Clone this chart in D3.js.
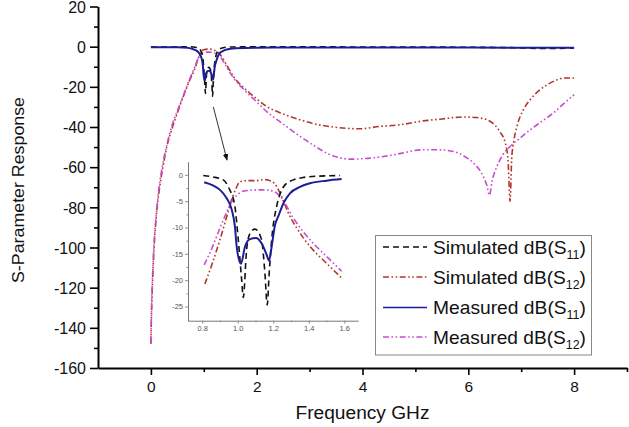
<!DOCTYPE html>
<html>
<head>
<meta charset="utf-8">
<script src="https://cdn.jsdelivr.net/npm/d3@7/dist/d3.min.js"></script>
<style>
  html, body { margin: 0; padding: 0; background: #fff; }
  svg { display: block; font-family: "Liberation Sans", Arial, sans-serif; }
</style>
</head>
<body>
<svg id="chart" width="629" height="427"></svg>
<script>
// ---- Wideband response, 0–8 GHz: [frequency GHz, dB] ----
const simS11 = [[0,-0.15],[0.4,-0.15],[0.7,-0.1],[0.806,-0.13],[0.86,-0.4],[0.918,-0.95],[0.95,-2.5],[0.984,-6],[1.003,-12.3],[1.022,-19.9],[1.031,-23.3],[1.05,-14.2],[1.069,-11.1],[1.097,-10.3],[1.134,-12.3],[1.153,-18.7],[1.166,-24.7],[1.177,-18.7],[1.191,-12.3],[1.219,-6],[1.24,-3.5],[1.266,-1.9],[1.31,-1.0],[1.367,-0.5],[1.45,-0.25],[1.6,-0.13],[2,-0.1],[3,-0.1],[4,-0.15],[5,-0.2],[6,-0.3],[6.8,-0.5],[7.4,-0.9],[8,-0.7]];
const simS12 = [[0,-148],[0.01,-135],[0.03,-118],[0.06,-100],[0.1,-85],[0.15,-73],[0.22,-61],[0.3,-50],[0.39,-41.5],[0.5,-33],[0.61,-25],[0.72,-17.5],[0.83,-11],[0.9,-5.5],[0.95,-2.5],[1.0,-1.5],[1.1,-1.2],[1.2,-1.8],[1.31,-4],[1.45,-10],[1.56,-14.8],[1.8,-21.5],[2.0,-26],[2.19,-29.8],[2.5,-33.5],[2.82,-36.4],[3.1,-38.5],[3.45,-40],[3.95,-40.9],[4.33,-39.7],[4.71,-38.9],[5.09,-37.2],[5.5,-36],[5.91,-35],[6.15,-35.3],[6.35,-36.4],[6.5,-39],[6.6,-42.5],[6.7,-48],[6.75,-56],[6.79,-77],[6.82,-56],[6.86,-47],[6.92,-39.7],[7.05,-31],[7.17,-26.4],[7.33,-22],[7.49,-19],[7.65,-16.8],[7.8,-15.6],[8.0,-15.6]];
const measS11 = [[0,-0.3],[0.5,-0.3],[0.7,-0.6],[0.811,-1.4],[0.86,-2.0],[0.9,-2.85],[0.935,-4.3],[0.966,-6.6],[0.984,-9.8],[0.994,-13.6],[1.018,-16.9],[1.041,-13.6],[1.069,-12.2],[1.103,-12.0],[1.134,-13],[1.163,-15.2],[1.176,-16.3],[1.191,-13.6],[1.21,-9.5],[1.228,-7.9],[1.26,-5.2],[1.294,-3.5],[1.35,-2.3],[1.407,-1.6],[1.5,-1.1],[1.6,-0.8],[2,-0.5],[3,-0.4],[5,-0.4],[7,-0.5],[8,-0.5]];
const measS12 = [[0,-147],[0.01,-132],[0.03,-115],[0.06,-98],[0.1,-84],[0.15,-71],[0.22,-59],[0.3,-49],[0.39,-40],[0.5,-32],[0.61,-24.5],[0.72,-17],[0.83,-10],[0.9,-5.5],[0.95,-3.5],[1.0,-2.8],[1.1,-2.7],[1.2,-3.2],[1.31,-5],[1.45,-11],[1.56,-15.5],[1.8,-22.5],[2.0,-27.5],[2.19,-32.3],[2.5,-38.5],[2.82,-44.7],[3.1,-49.5],[3.32,-53],[3.55,-55.2],[3.77,-56],[4.1,-55.6],[4.4,-54.7],[4.75,-53],[5.09,-51.4],[5.4,-51.3],[5.72,-52.2],[5.95,-55],[6.1,-58],[6.25,-63],[6.35,-69],[6.4,-74],[6.45,-67],[6.54,-59.7],[6.65,-54],[6.79,-49.7],[6.98,-45.5],[7.17,-41.4],[7.4,-37],[7.61,-33],[7.8,-28.5],[8.0,-23.9]];

// ---- Passband detail, 0.8–1.6 GHz ----
const zoomSimS11 = [[0.806,-0.13],[0.86,-0.4],[0.918,-0.95],[0.95,-2.5],[0.984,-6],[1.003,-12.3],[1.022,-19.9],[1.031,-23.3],[1.05,-14.2],[1.069,-11.1],[1.097,-10.3],[1.134,-12.3],[1.153,-18.7],[1.166,-24.7],[1.177,-18.7],[1.191,-12.3],[1.219,-6],[1.24,-3.5],[1.266,-1.9],[1.31,-1.0],[1.367,-0.5],[1.45,-0.25],[1.576,-0.13]];
const zoomSimS12 = [[0.815,-20.7],[0.86,-16.5],[0.9,-12.3],[0.935,-8.3],[0.966,-4.7],[0.99,-2.6],[1.012,-1.3],[1.05,-1.1],[1.1,-1.1],[1.15,-0.9],[1.19,-1.2],[1.219,-2.2],[1.238,-3.5],[1.294,-7.9],[1.332,-10.1],[1.407,-13.6],[1.5,-16.8],[1.585,-19.6]];
const zoomMeasS11 = [[0.811,-1.4],[0.86,-2.0],[0.9,-2.85],[0.935,-4.3],[0.966,-6.6],[0.984,-9.8],[0.994,-13.6],[1.018,-16.9],[1.041,-13.6],[1.069,-12.2],[1.103,-12.0],[1.134,-13],[1.163,-15.2],[1.176,-16.3],[1.191,-13.6],[1.21,-9.5],[1.228,-7.9],[1.26,-5.2],[1.294,-3.5],[1.35,-2.3],[1.407,-1.6],[1.5,-1.1],[1.585,-0.8]];
const zoomMeasS12 = [[0.811,-17.1],[0.86,-13.5],[0.9,-10.1],[0.935,-7.3],[0.966,-5.1],[0.995,-3.9],[1.022,-3.2],[1.06,-2.95],[1.1,-2.85],[1.15,-2.85],[1.2,-3.1],[1.247,-4.4],[1.313,-8.2],[1.369,-10.8],[1.425,-13],[1.482,-14.9],[1.585,-18.3]];

// ---- Ticks and labels ----
const yMajor = [-160,-140,-120,-100,-80,-60,-40,-20,0,20];
const yMinor = [-150,-130,-110,-90,-70,-50,-30,-10,10];
const xMajor = [0,2,4,6,8];
const xMinor = [1,3,5,7,9];
const zoomYMajor = [0,-5,-10,-15,-20,-25];
const zoomYMinor = [-2.5,-7.5,-12.5,-17.5,-22.5];
const zoomXMajor = [0.8,1.0,1.2,1.4,1.6];
const zoomXMinor = [0.9,1.1,1.3,1.5];

const seriesNames = ["Simulated dB(S", "Simulated dB(S", "Measured dB(S", "Measured dB(S"];
const seriesSubs = ["11", "12", "11", "12"];

// series styling
const styles = [
  { color: "#111111", width: 1.6, dash: "6,4" },
  { color: "#b3362c", width: 1.6, dash: "6,2.5,1.6,2.5,1.6,2.5" },
  { color: "#1d1d98", width: 2.0, dash: null },
  { color: "#c64fcf", width: 1.6, dash: "6,2.5,1.6,2.5,1.6,2.5" }
];

const svg = d3.select("#chart");

// ---- Main axes ----
const x = d3.scaleLinear().domain([-1, 9]).range([98, 627]);
const y = d3.scaleLinear().domain([-160, 20]).range([368, 6.5]);

svg.append("g").attr("class", "main-axis").attr("transform", `translate(${x(-1)},0)`)
  .call(d3.axisLeft(y).tickValues(yMajor).tickSize(8).tickSizeOuter(0).tickPadding(4).tickFormat(d => String(d)))
  .call(g => g.selectAll(".tick text").attr("font-size", 16).attr("dy", "0.36em"));
svg.append("g").attr("class", "main-axis").attr("transform", `translate(${x(-1)},0)`)
  .call(d3.axisLeft(y).tickValues(yMinor).tickSize(4).tickFormat(""))
  .call(g => g.select(".domain").remove());

svg.append("g").attr("class", "main-axis").attr("transform", `translate(0,${y(-160)})`)
  .call(d3.axisBottom(x).tickValues(xMajor).tickSize(7).tickSizeOuter(0).tickPadding(6).tickFormat(d => String(d)))
  .call(g => g.selectAll(".tick text").attr("font-size", 15.5));
svg.append("g").attr("class", "main-axis").attr("transform", `translate(0,${y(-160)})`)
  .call(d3.axisBottom(x).tickValues(xMinor).tickSize(4).tickFormat(""))
  .call(g => g.select(".domain").remove());

svg.selectAll(".main-axis .domain").attr("stroke", "#000").attr("stroke-width", 2);
svg.selectAll(".main-axis .tick line").attr("stroke", "#000").attr("stroke-width", 1.6);
svg.selectAll(".main-axis .tick text").attr("fill", "#111")
  .attr("font-family", "Liberation Sans, Arial, sans-serif");

svg.append("text").attr("x", x(4)).attr("y", 419).attr("text-anchor", "middle")
  .attr("font-size", 18).attr("textLength", 134).attr("lengthAdjust", "spacingAndGlyphs")
  .attr("fill", "#111").text("Frequency GHz");
svg.append("text").attr("transform", `translate(24,${(97 + 283) / 2}) rotate(-90)`)
  .attr("text-anchor", "middle").attr("font-size", 17).attr("textLength", 186).attr("lengthAdjust", "spacingAndGlyphs")
  .attr("fill", "#111").text("S-Parameter Response");

// ---- Main curves ----
const line = d3.line().x(d => x(d[0])).y(d => y(d[1])).curve(d3.curveMonotoneX);
const mainSeries = [simS11, simS12, measS11, measS12];
// draw S12 first so the S11 traces sit on top
[1, 3, 0, 2].forEach(i => {
  const s = styles[i];
  svg.append("path").datum(mainSeries[i]).attr("d", line)
    .attr("fill", "none").attr("stroke", s.color).attr("stroke-width", s.width)
    .attr("stroke-dasharray", s.dash).attr("stroke-linejoin", "round");
});

// ---- Pointer from the passband to the inset ----
svg.append("defs").append("marker").attr("id", "head")
  .attr("viewBox", "0 0 10 10").attr("refX", 9).attr("refY", 5)
  .attr("markerWidth", 7).attr("markerHeight", 7).attr("orient", "auto")
  .append("path").attr("d", "M0,1 L10,5 L0,9 Z").attr("fill", "#111");
svg.append("line").attr("x1", x(1.18)).attr("y1", y(-30)).attr("x2", x(1.44)).attr("y2", y(-56.5))
  .attr("stroke", "#333").attr("stroke-width", 1).attr("marker-end", "url(#head)");

// ---- Inset: passband detail ----
const ix = d3.scaleLinear().domain([0.72, 1.677]).range([188, 358]);
const iy = d3.scaleLinear().domain([-27.7, 2.5]).range([320.7, 161.7]);
const inset = svg.append("g");
inset.append("g").attr("transform", `translate(${ix(0.72)},0)`)
  .call(d3.axisLeft(iy).tickValues(zoomYMajor).tickSize(3).tickSizeOuter(0).tickPadding(2).tickFormat(d => String(d)));
inset.append("g").attr("transform", `translate(${ix(0.72)},0)`)
  .call(d3.axisLeft(iy).tickValues(zoomYMinor).tickSize(1.5).tickFormat(""))
  .call(g => g.select(".domain").remove());
inset.append("g").attr("transform", `translate(0,${iy(-27.7)})`)
  .call(d3.axisBottom(ix).tickValues(zoomXMajor).tickSize(3).tickSizeOuter(0).tickPadding(2).tickFormat(d3.format(".1f")));
inset.append("g").attr("transform", `translate(0,${iy(-27.7)})`)
  .call(d3.axisBottom(ix).tickValues(zoomXMinor).tickSize(1.5).tickFormat(""))
  .call(g => g.select(".domain").remove());
inset.selectAll(".domain").attr("stroke", "#777").attr("stroke-width", 1);
inset.selectAll(".tick line").attr("stroke", "#777").attr("stroke-width", 0.8);
inset.selectAll(".tick text").attr("font-size", 7.5).attr("fill", "#555")
  .attr("font-family", "Liberation Sans, Arial, sans-serif");

const iline = d3.line().x(d => ix(d[0])).y(d => iy(d[1])).curve(d3.curveMonotoneX);
const zoomSeries = [zoomSimS11, zoomSimS12, zoomMeasS11, zoomMeasS12];
[1, 3, 0, 2].forEach(i => {
  const s = styles[i];
  inset.append("path").datum(zoomSeries[i]).attr("d", iline)
    .attr("fill", "none").attr("stroke", s.color).attr("stroke-width", s.width)
    .attr("stroke-dasharray", s.dash).attr("stroke-linejoin", "round");
});

// ---- Legend ----
const lg = svg.append("g");
lg.append("rect").attr("x", 375.5).attr("y", 235.5).attr("width", 216).attr("height", 119.5)
  .attr("fill", "#fff").attr("stroke", "#888").attr("stroke-width", 1);
const rowY = [247, 277, 307.5, 337];
styles.forEach((s, i) => {
  lg.append("line").attr("x1", 383).attr("x2", 427).attr("y1", rowY[i]).attr("y2", rowY[i])
    .attr("stroke", s.color).attr("stroke-width", s.width === 2 ? 1.6 : 1.3).attr("stroke-dasharray", s.dash);
  const t = lg.append("text").attr("x", 433).attr("y", rowY[i] + 6.5)
    .attr("font-size", 18.5).attr("fill", "#111")
    .attr("textLength", 153).attr("lengthAdjust", "spacingAndGlyphs");
  t.append("tspan").text(seriesNames[i]);
  t.append("tspan").attr("font-size", 12).attr("dy", 5).text(seriesSubs[i]);
  t.append("tspan").attr("dy", -5).text(")");
});
</script>
</body>
</html>
